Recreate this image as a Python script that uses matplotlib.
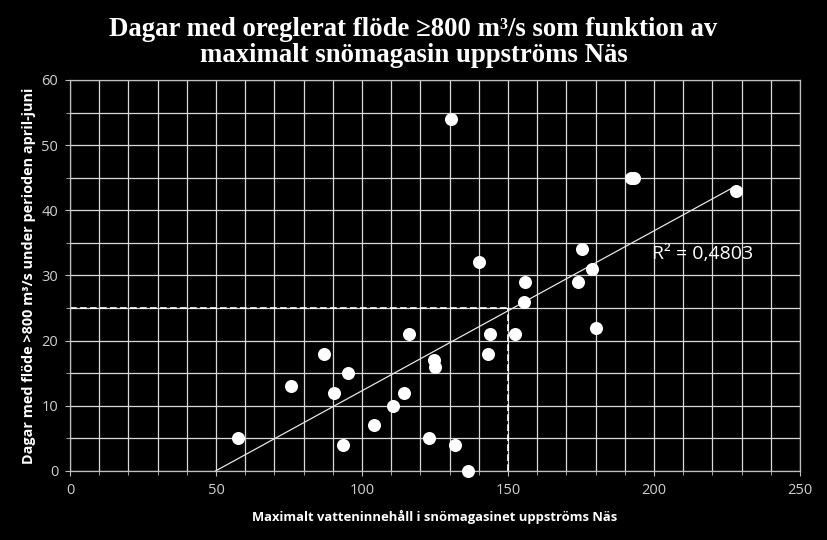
import matplotlib.pyplot as plt
import numpy as np
from matplotlib.ticker import MultipleLocator

# snow storage (x) and days with flow >= 800 m3/s (y)
snow = [57.5, 75.7, 87, 90.4, 95.2, 93.5, 104, 110.6, 114.4, 116, 124.7, 125,
        123, 130.5, 131.8, 136.3, 140, 143, 143.8, 152.4, 155.5, 155.8,
        174, 175.3, 178.8, 180, 192, 193, 228]
days = [5, 13, 18, 12, 15, 4, 7, 10, 12, 21, 17, 16,
        5, 54, 4, 0, 32, 18, 21, 21, 26, 29,
        29, 34, 31, 22, 45, 45, 43]

x = np.array(snow)
y = np.array(days)
k, m = np.polyfit(x, y, 1)
x0 = -m / k
xs = np.array([x0, x.max()])

fig = plt.figure(figsize=(8.27, 5.4), dpi=100, facecolor='black')
ax = fig.add_axes([0.0846, 0.1278, 0.8827, 0.7241], facecolor='black')

ax.set_xlim(0, 250)
ax.set_ylim(0, 60)
ax.xaxis.set_major_locator(MultipleLocator(50))
ax.xaxis.set_minor_locator(MultipleLocator(10))
ax.yaxis.set_major_locator(MultipleLocator(10))
ax.yaxis.set_minor_locator(MultipleLocator(5))
ax.grid(True, which='both', color='#d9d9d9', lw=0.9)
ax.set_axisbelow(True)

for s in ['left', 'bottom', 'right', 'top']:
    ax.spines[s].set_color('#bfbfbf')
    ax.spines[s].set_linewidth(0.9)

ax.tick_params(which='both', colors='#bfbfbf', labelcolor='#d0d0d0', labelsize=10.5, pad=5)
ax.tick_params(which='minor', length=3)
for lab in ax.get_xticklabels() + ax.get_yticklabels():
    lab.set_family('Open Sans')

# reference lines at 150 / 25
ax.plot([0, 150], [25, 25], color='white', lw=1.2, ls=(0, (4, 2)))
ax.plot([150, 150], [0, 25], color='white', lw=1.2, ls=(0, (4, 2)))

ax.plot(xs, k * xs + m, color='#e6e6e6', lw=0.9)
ax.scatter(x, y, s=70, color='white', zorder=5, clip_on=False)

ax.text(0.797, 0.555, 'R² = 0,4803', transform=ax.transAxes,
        color='white', fontsize=14, family='Open Sans', va='center')

ax.set_xlabel('Maximalt vatteninnehåll i snömagasinet uppströms Näs',
              color='white', fontsize=9.4, fontweight='bold', family='Open Sans', labelpad=9)
ax.set_ylabel('Dagar med flöde >800 m³/s under perioden april-juni',
              color='white', fontsize=10.4, fontweight='bold', family='Open Sans', labelpad=4)

fig.text(0.5, 0.968, 'Dagar med oreglerat flöde ≥800 m³/s som funktion av\nmaximalt snömagasin uppströms Näs',
         ha='center', va='top', color='white', fontsize=19.3, fontweight='bold',
         family='Liberation Serif', linespacing=1.02)

fig.savefig('out.png', dpi=100, facecolor='black')
